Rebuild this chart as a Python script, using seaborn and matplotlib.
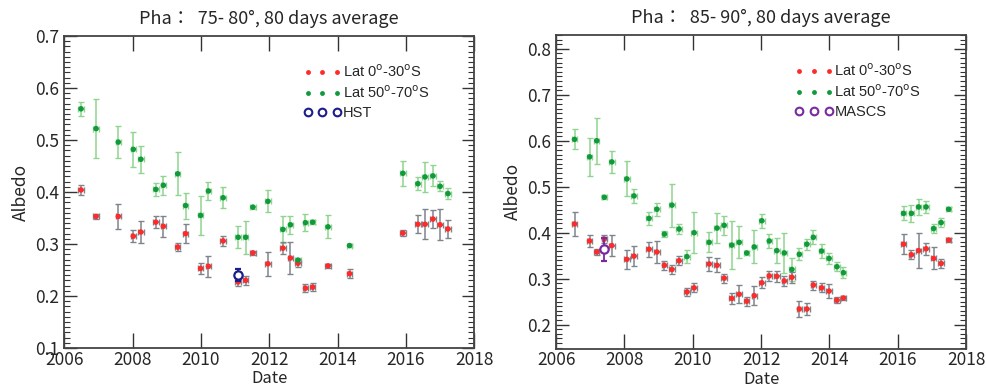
import numpy as np
import pandas as pd
import matplotlib
matplotlib.use("Agg")
import matplotlib.pyplot as plt
from matplotlib.ticker import MultipleLocator
from matplotlib.lines import Line2D
import seaborn as sns

# left panel: phase 75-80 deg
left_dates = [2006.49, 2006.93, 2007.58, 2008.02, 2008.24, 2008.68, 2008.90, 2009.32,
              2009.55, 2009.99, 2010.22, 2010.65, 2011.09, 2011.31, 2011.52, 2011.96,
              2012.40, 2012.62, 2012.84, 2013.06, 2013.27, 2013.72, 2014.35, 2015.91,
              2016.35, 2016.56, 2016.79, 2017.00, 2017.23]
left_eq = [0.404, 0.353, 0.353, 0.315, 0.323, 0.342, 0.334, 0.294, 0.320, 0.253, 0.257,
           0.306, 0.227, 0.230, 0.283, 0.262, 0.292, 0.273, 0.263, 0.215, 0.217, 0.258,
           0.243, 0.321, 0.338, 0.338, 0.348, 0.337, 0.329]
left_eq_err = [0.010, 0.005, 0.024, 0.012, 0.021, 0.012, 0.020, 0.007, 0.018, 0.010, 0.020,
               0.010, 0.008, 0.008, 0.004, 0.023, 0.012, 0.031, 0.008, 0.008, 0.008, 0.004,
               0.008, 0.006, 0.017, 0.029, 0.018, 0.030, 0.017]
left_hi = [0.560, 0.522, 0.496, 0.482, 0.463, 0.405, 0.413, 0.435, 0.374, 0.355, 0.402,
           0.389, 0.313, 0.313, 0.371, 0.382, 0.328, 0.337, 0.269, 0.341, 0.342, 0.333,
           0.297, 0.436, 0.416, 0.429, 0.431, 0.411, 0.397]
left_hi_err = [0.013, 0.057, 0.031, 0.034, 0.026, 0.012, 0.018, 0.041, 0.025, 0.038, 0.017,
               0.020, 0.021, 0.032, 0.003, 0.021, 0.026, 0.017, 0.005, 0.016, 0.004, 0.022,
               0.003, 0.024, 0.013, 0.029, 0.020, 0.010, 0.010]
hst_date, hst_val, hst_err = [2011.09], [0.240], [0.012]

# right panel: phase 85-90 deg
right_dates = [2006.54, 2006.98, 2007.19, 2007.41, 2007.63, 2008.07, 2008.28, 2008.72,
               2008.95, 2009.17, 2009.39, 2009.60, 2009.83, 2010.04, 2010.48, 2010.71,
               2010.92, 2011.14, 2011.36, 2011.58, 2011.80, 2012.02, 2012.24, 2012.46,
               2012.68, 2012.90, 2013.12, 2013.34, 2013.53, 2013.77, 2013.99, 2014.22,
               2014.41, 2016.17, 2016.40, 2016.61, 2016.83, 2017.05, 2017.27, 2017.49]
right_eq = [0.419, 0.382, 0.358, 0.386, 0.372, 0.342, 0.349, 0.364, 0.358, 0.329, 0.320,
            0.339, 0.271, 0.280, 0.332, 0.329, 0.301, 0.257, 0.266, 0.251, 0.263, 0.291,
            0.306, 0.305, 0.295, 0.303, 0.234, 0.234, 0.286, 0.280, 0.273, 0.253, 0.258,
            0.375, 0.352, 0.361, 0.365, 0.344, 0.333, 0.384]
right_eq_err = [0.027, 0.013, 0.006, 0.008, 0.022, 0.020, 0.022, 0.016, 0.025, 0.010, 0.010,
                0.010, 0.008, 0.010, 0.015, 0.015, 0.010, 0.012, 0.020, 0.010, 0.020, 0.012,
                0.010, 0.012, 0.010, 0.012, 0.017, 0.012, 0.010, 0.010, 0.015, 0.007, 0.005,
                0.022, 0.010, 0.038, 0.013, 0.024, 0.010, 0.004]
right_hi = [0.603, 0.565, 0.600, 0.477, 0.554, 0.517, 0.480, 0.431, 0.451, 0.397, 0.460,
            0.408, 0.348, 0.400, 0.379, 0.410, 0.416, 0.373, 0.379, 0.356, 0.369, 0.426,
            0.382, 0.361, 0.356, 0.320, 0.353, 0.375, 0.390, 0.360, 0.344, 0.326, 0.313,
            0.442, 0.442, 0.456, 0.456, 0.409, 0.422, 0.451]
right_hi_err = [0.022, 0.041, 0.050, 0.004, 0.024, 0.038, 0.015, 0.014, 0.014, 0.007, 0.047,
                0.010, 0.015, 0.045, 0.022, 0.033, 0.020, 0.052, 0.035, 0.004, 0.036, 0.015,
                0.015, 0.027, 0.044, 0.026, 0.013, 0.012, 0.015, 0.015, 0.012, 0.010, 0.012,
                0.015, 0.018, 0.018, 0.013, 0.010, 0.010, 0.004]
mascs_date, mascs_val, mascs_err = [2007.41], [0.364], [0.025]

date_err = 0.08  # half width of the 80 day bins, in years

sns.set_style("ticks")
plt.rcParams['font.family'] = ['Noto Sans CJK JP', 'DejaVu Sans']

RED = '#ff2a2a'
GREEN = '#109a3c'
GRAY_BAR = '#7d858c'
GREEN_BAR = '#8fd48f'
LEG_FONT = {'family': 'Liberation Sans', 'size': 10.5}

fig = plt.figure(figsize=(9.86, 3.89), dpi=100)
ax1 = fig.add_axes([0.0652, 0.1054, 0.4158, 0.8020])
ax2 = fig.add_axes([0.5640, 0.1040, 0.4158, 0.8060])


def panel(ax, dates, eq, eq_err, hi, hi_err, ref_name, ref_date, ref_val, ref_err,
          ref_color, title, ylim):
    df = pd.DataFrame({'Date': dates + dates,
                       'Albedo': eq + hi,
                       'err': eq_err + hi_err,
                       'region': ['eq'] * len(dates) + ['hi'] * len(dates)})
    for reg, bar_c in [('hi', GREEN_BAR), ('eq', GRAY_BAR)]:
        d = df[df.region == reg]
        ax.errorbar(d['Date'], d['Albedo'], yerr=d['err'], xerr=date_err, fmt='none',
                    ecolor=bar_c, elinewidth=1.1, capsize=2.2, capthick=1.0, zorder=2)
    sns.scatterplot(data=df, x='Date', y='Albedo', hue='region',
                    palette={'eq': RED, 'hi': GREEN}, s=16, linewidth=0,
                    legend=False, ax=ax, zorder=3)
    ax.errorbar(ref_date, ref_val, yerr=ref_err, fmt='o', mfc='white', mec=ref_color,
                mew=1.6, ms=6, ecolor=ref_color, elinewidth=1.3, capsize=2.5, zorder=4)

    ax.set_xlim(2006, 2018)
    ax.set_ylim(*ylim)
    ax.xaxis.set_major_locator(MultipleLocator(2))
    ax.yaxis.set_major_locator(MultipleLocator(0.1))
    ax.yaxis.set_minor_locator(MultipleLocator(0.01))
    ax.yaxis.set_major_formatter(plt.FuncFormatter(lambda v, p: f"{v:.1f}"))
    ax.tick_params(axis='x', which='major', direction='in', length=11, width=1.0,
                   top=True, bottom=True, labelsize=12.5, color='#333333', pad=2)
    ax.tick_params(axis='y', which='major', direction='in', length=9, width=1.0,
                   left=True, right=True, labelsize=12.5, color='#333333')
    ax.tick_params(axis='y', which='minor', direction='in', length=4.5, width=0.8,
                   left=True, right=True, color='#333333')
    for sp in ax.spines.values():
        sp.set_color('#444444')
        sp.set_linewidth(1.3)
    ax.set_xlabel('Date', fontsize=12, va='center')
    # sit the label in the narrow strip below the tick labels, as in the source
    ax.xaxis.set_label_coords(0.5, -0.098)
    ax.set_ylabel('Albedo', fontsize=12.5, labelpad=4)
    ax.set_title(title, fontsize=13, pad=9)

    lat_handles = [Line2D([], [], ls='none', marker='o', ms=3.5, color=RED, mec='none'),
                   Line2D([], [], ls='none', marker='o', ms=3.5, color=GREEN, mec='none')]
    lat_labels = [r'Lat 0$^{\rm o}$-30$^{\rm o}$S', r'Lat 50$^{\rm o}$-70$^{\rm o}$S']
    leg = ax.legend(lat_handles, lat_labels, loc='upper left',
                    bbox_to_anchor=(0.565, 0.935), numpoints=3, frameon=False,
                    handlelength=2.6, handletextpad=0.1, labelspacing=0.3,
                    borderpad=0, prop=LEG_FONT)
    ax.add_artist(leg)
    ref_handle = Line2D([], [], ls='none', marker='o', ms=5.5, mfc='none',
                        mec=ref_color, mew=1.5)
    ax.legend([ref_handle], [ref_name], loc='upper left',
              bbox_to_anchor=(0.565, 0.80), numpoints=3, frameon=False,
              handlelength=2.6, handletextpad=0.1, borderpad=0, prop=LEG_FONT)


panel(ax1, left_dates, left_eq, left_eq_err, left_hi, left_hi_err, 'HST',
      hst_date, hst_val, hst_err, '#1c1c8a',
      'Pha：  75- 80°, 80 days average', (0.1, 0.7))
panel(ax2, right_dates, right_eq, right_eq_err, right_hi, right_hi_err, 'MASCS',
      mascs_date, mascs_val, mascs_err, '#7a2aa0',
      'Pha：  85- 90°, 80 days average', (0.148, 0.83))

fig.savefig('out.png', dpi=100)
